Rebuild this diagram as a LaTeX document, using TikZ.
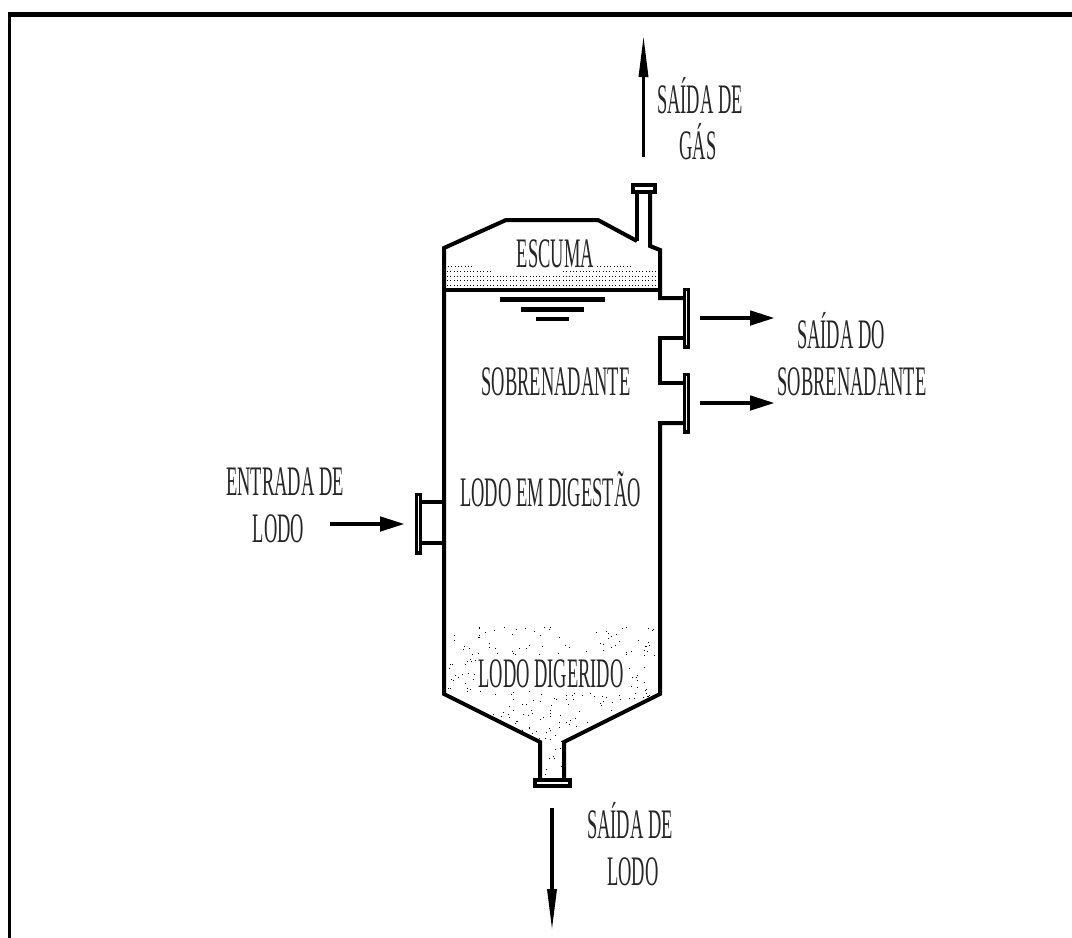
\documentclass[tikz,border=0pt]{standalone}
\usepackage{fontspec}
\setmainfont[FakeStretch=0.44]{Liberation Serif}
\usetikzlibrary{arrows.meta}
\tikzset{
  wall/.style={line width=4pt,line join=miter,line cap=butt},
  flangebox/.style={line width=3.2pt,fill=white},
  flangecap/.style={line width=4.4pt,fill=white},
  flowh/.style={line width=4.6pt,-{Triangle[length=25pt,width=14pt]}},
  flowv/.style={line width=3.4pt,-{Triangle[length=42pt,width=9pt]}},
  lbl/.style={font=\fontsize{42}{42}\selectfont,text=black!85,inner sep=0pt,anchor=base},
  tick/.style={fill=black,draw=none},
}
\begin{document}
\begin{tikzpicture}[x=1pt,y=-1pt]
\useasboundingbox (0,0) rectangle (1072,938);
\fill[white] (0,0) rectangle (1072,938);
% frame
\draw[line width=3.2pt] (9.6,938) -- (9.6,14.5);
\draw[line width=5pt] (8,14.5) -- (1072,14.5);
% scum dots
\foreach \yy/\xa/\xb in {266/448/472,266/597/633,271/447/490,271/563/658,276/447/658,280/447/658,285/447/658}{
  \foreach \k in {0,...,64}{
    \pgfmathsetmacro{\xx}{\xa+3.3*\k}
    \pgfmathtruncatemacro{\ok}{\xx<=\xb ? 1 : 0}
    \ifnum\ok=1 \fill (\xx,\yy) rectangle +(1,1); \fi
  }
}
% sludge dots
\pgfmathsetseed{4711}
\begin{scope}
\clip (446,625) -- (660,625) -- (660,693) -- (563,741) -- (563,778) -- (541,778) -- (541,741) -- (446,693) -- cycle;
\foreach \i in {1,...,460}{
  \pgfmathsetmacro{\px}{447+rnd*212}
  \pgfmathsetmacro{\py}{626+rnd*150}
  \pgfmathsetmacro{\ra}{rnd}
  \pgfmathtruncatemacro{\keep}{(\py<745 || (\px>541 && \px<563))
     && !(\px>476 && \px<628 && \py>655 && \py<691)
     && (\py>640 || \ra<0.6) ? 1 : 0}
  \ifnum\keep=1 \fill (\px,\py) rectangle +(1,1); \fi
}
\end{scope}
% vessel
\draw[wall] (637,241) -- (598,220) -- (506,220) -- (444,248) -- (444,694) -- (540,742) -- (540,779);
\draw[wall] (637,241) -- (637,192);
\draw[wall] (650,192) -- (650,246) -- (660,250) -- (660,298) -- (684,298);
\draw[wall] (684,338) -- (660,338) -- (660,383) -- (684,383);
\draw[wall] (684,423) -- (660,423) -- (660,694) -- (564,742) -- (564,779);
\draw[wall] (444,502) -- (420,502);
\draw[wall] (444,543) -- (420,543);
% surface
\draw[line width=4.4pt] (444,290) -- (660,290);
\fill[tick] (500,297) rectangle (605,302);
\fill[tick] (521,307) rectangle (584,311.5);
\fill[tick] (536,317) rectangle (569,321);
% flanges
\draw[flangecap] (633.2,185.2) rectangle (654.8,191.8);
\draw[flangecap] (535.2,780.2) rectangle (569.8,785.8);
\draw[flangebox] (684.5,289.5) rectangle (688.5,347);
\draw[flangebox] (684.5,374.5) rectangle (688.5,432);
\draw[flangebox] (416.5,494.5) rectangle (420.5,553);
% arrows
\coordinate (gas1) at (643.5,157); \coordinate (gas2) at (643.5,35);
\coordinate (s1a) at (700,318); \coordinate (s1b) at (775,318);
\coordinate (s2a) at (700,403); \coordinate (s2b) at (775,403);
\coordinate (ina) at (330,524); \coordinate (inb) at (405,524);
\coordinate (outa) at (552,808); \coordinate (outb) at (552,931);
\draw[flowv] (gas1) -- (gas2);
\draw[flowh] (s1a) -- (s1b);
\draw[flowh] (s2a) -- (s2b);
\draw[flowh] (ina) -- (inb);
\draw[flowv] (outa) -- (outb);
% labels
\node[lbl] (l1) at (700,113) {SAÍDA DE};
\node[lbl] (l2) at (698,159) {GÁS};
\node[lbl] (l3) at (555.5,267) {ESCUMA};
\node[lbl] (l4) at (841,348) {SAÍDA DO};
\node[lbl] (l5) at (852,395) {SOBRENADANTE};
\node[lbl] (l6) at (556,395) {SOBRENADANTE};
\node[lbl] (l7) at (285,495) {ENTRADA DE};
\node[lbl] (l8) at (278.5,542) {LODO};
\node[lbl] (l9) at (550.5,506) {LODO EM DIGESTÃO};
\node[lbl] (l10) at (551,687) {LODO DIGERIDO};
\node[lbl] (l11) at (630,838) {SAÍDA DE};
\node[lbl] (l12) at (633,885) {LODO};
\end{tikzpicture}
\end{document}
